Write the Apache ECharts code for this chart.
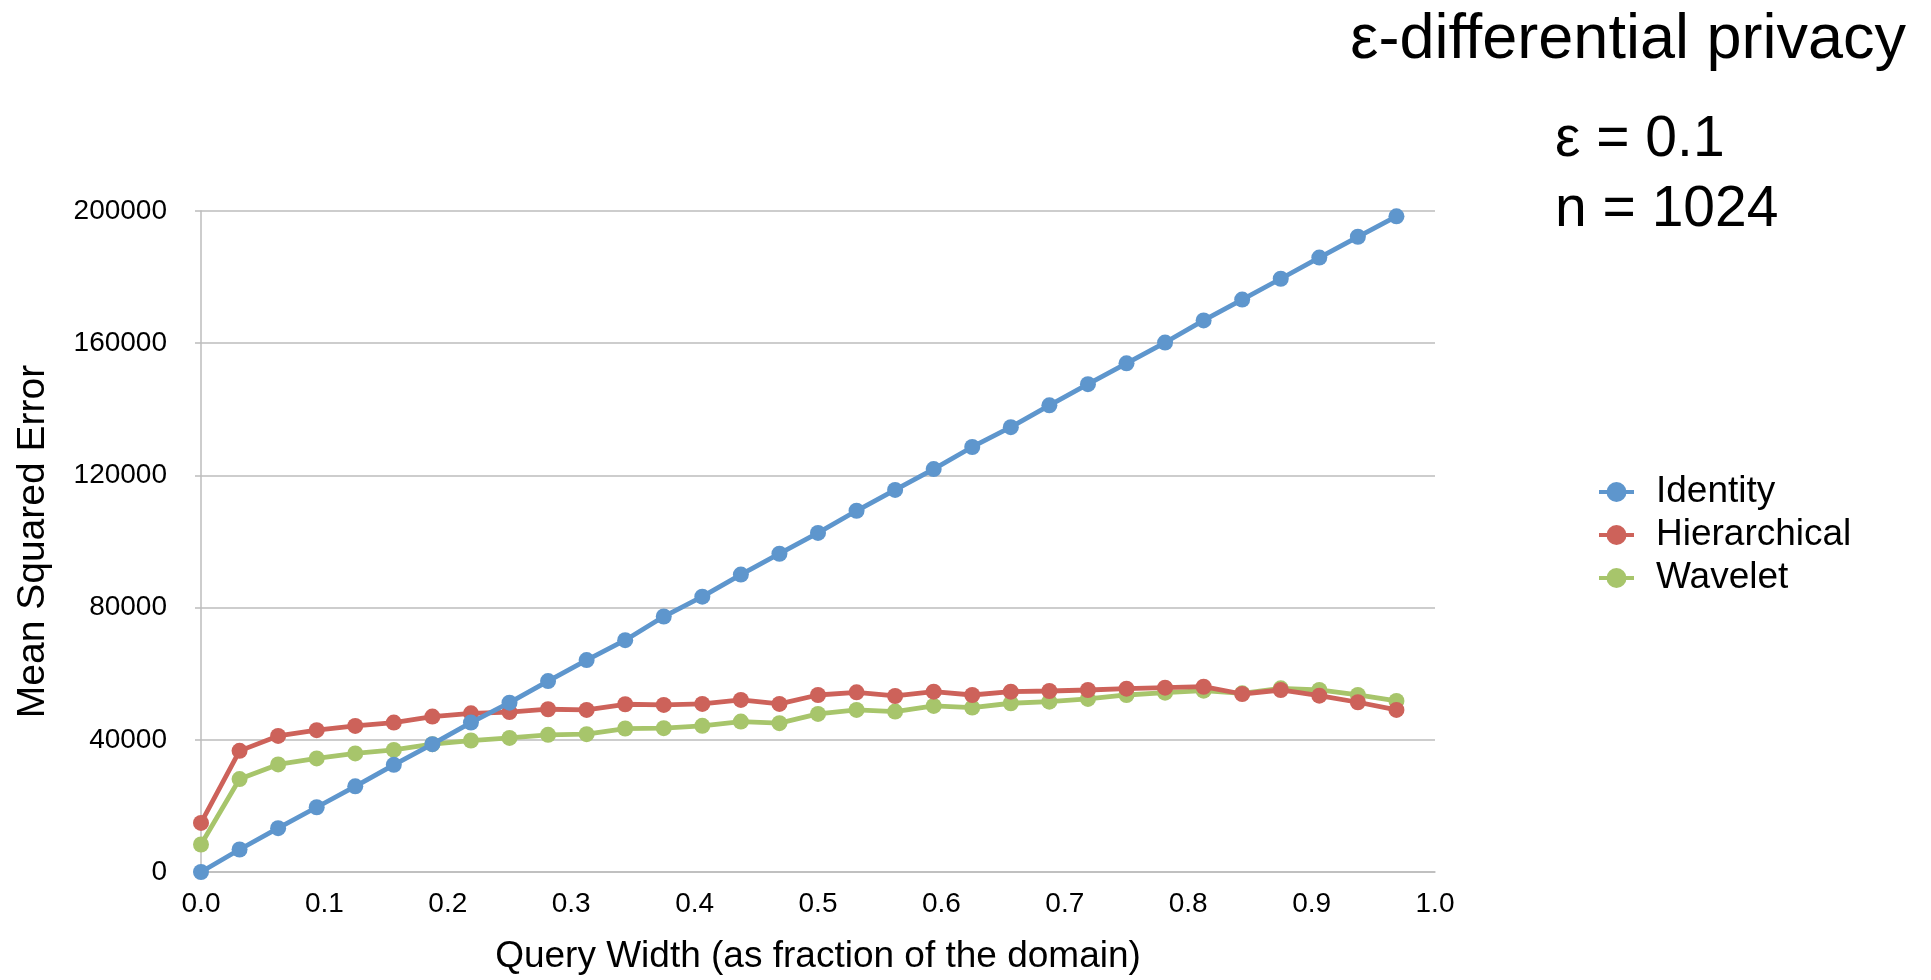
<!DOCTYPE html>
<html>
<head>
<meta charset="utf-8">
<title>ε-differential privacy</title>
<script src="https://cdn.jsdelivr.net/npm/echarts@6/dist/echarts.min.js"></script>
<style>
  html, body { margin: 0; padding: 0; background: #fff; }
  #chart { width: 1931px; height: 980px; }
</style>
</head>
<body>
<div id="chart"></div>
<script>
// Query widths as a fraction of the domain (n = 1024)
const queryWidths = [0, 0.03125, 0.0625, 0.09375, 0.125, 0.15625, 0.1875, 0.21875,
  0.25, 0.28125, 0.3125, 0.34375, 0.375, 0.40625, 0.4375, 0.46875,
  0.5, 0.53125, 0.5625, 0.59375, 0.625, 0.65625, 0.6875, 0.71875,
  0.75, 0.78125, 0.8125, 0.84375, 0.875, 0.90625, 0.9375, 0.96875];

// Mean squared error per strategy
const identityMSE = [0, 6810, 13260, 19590, 25920, 32430, 38670, 45210,
  51240, 57780, 64110, 70140, 77300, 83300, 90000, 96300,
  102600, 109300, 115600, 121900, 128600, 134600, 141200, 147600,
  153900, 160200, 166900, 173200, 179500, 185900, 192200, 198400];
const hierarchicalMSE = [14860, 36650, 41170, 42900, 44190, 45210, 47020, 48010,
  48400, 49250, 49040, 50750, 50550, 50850, 52060, 50850,
  53560, 54370, 53260, 54560, 53560, 54560, 54770, 55070,
  55460, 55760, 56060, 53860, 55070, 53350, 51360, 49040];
const waveletMSE = [8320, 28120, 32550, 34360, 35870, 36950, 38670, 39780,
  40570, 41510, 41710, 43410, 43510, 44220, 45520, 45030,
  47840, 49040, 48530, 50250, 49740, 51060, 51550, 52360,
  53560, 54260, 54860, 54070, 55580, 55070, 53560, 51760];

const seriesNames = ['Identity', 'Hierarchical', 'Wavelet'];
const seriesColors = ['#5E96CD', '#CD625A', '#A7C56B'];
const seriesValues = [identityMSE, hierarchicalMSE, waveletMSE];
const seriesZ = [4, 3, 2];

const FONT = '"Liberation Sans", Arial, Helvetica, sans-serif';

const chart = echarts.init(document.getElementById('chart'), null, { renderer: 'canvas' });

const series = seriesNames.map((name, k) => ({
  name: name,
  type: 'line',
  data: queryWidths.map((w, i) => [w, seriesValues[k][i]]),
  symbol: 'circle',
  symbolSize: 16,
  showSymbol: true,
  z: seriesZ[k],
  color: seriesColors[k],
  itemStyle: { color: seriesColors[k] },
  lineStyle: { color: seriesColors[k], width: 4.8 },
  emphasis: { disabled: true },
  animation: false
}));

chart.setOption({
  backgroundColor: '#ffffff',
  animation: false,
  textStyle: { fontFamily: FONT, color: '#000' },
  title: [
    {
      text: 'ε-differential privacy',
      right: 25,
      top: 9,
      padding: 0,
      textStyle: { fontFamily: FONT, fontSize: 63, fontWeight: 'normal', color: '#000' }
    },
    {
      text: 'ε = 0.1\nn = 1024',
      left: 1555,
      top: 105,
      padding: 0,
      textStyle: { fontFamily: FONT, fontSize: 57, fontWeight: 'normal', color: '#000', lineHeight: 70 }
    }
  ],
  legend: {
    data: seriesNames,
    orient: 'vertical',
    left: 1597,
    top: 472,
    padding: 0,
    itemWidth: 35,
    itemHeight: 25,
    itemGap: 3,
    lineStyle: { width: 4 },
    textStyle: { fontFamily: FONT, fontSize: 37, color: '#000', lineHeight: 40, padding: [0, 0, 0, 17] }
  },
  grid: {
    left: 201,
    right: 496,
    top: 211,
    bottom: 105,
    containLabel: false
  },
  xAxis: {
    type: 'value',
    min: 0,
    max: 1,
    interval: 0.1,
    name: 'Query Width (as fraction of the domain)',
    nameLocation: 'middle',
    nameGap: 66,
    nameTextStyle: { fontFamily: FONT, fontSize: 37, color: '#000' },
    axisLine: { show: true, lineStyle: { color: '#bcbcbc', width: 1.5 } },
    axisTick: { show: false },
    splitLine: { show: false },
    axisLabel: {
      margin: 18,
      fontFamily: FONT,
      fontSize: 28,
      color: '#000',
      formatter: v => v.toFixed(1)
    }
  },
  yAxis: {
    type: 'value',
    min: 0,
    max: 200000,
    interval: 40000,
    name: 'Mean Squared Error',
    nameLocation: 'middle',
    nameGap: 148,
    nameTextStyle: { fontFamily: FONT, fontSize: 39, color: '#000' },
    axisLine: { show: true, lineStyle: { color: '#bcbcbc', width: 1.5 } },
    axisTick: { show: true, length: 6, lineStyle: { color: '#bcbcbc', width: 1.5 } },
    splitLine: { show: true, lineStyle: { color: '#bcbcbc', width: 1.5 } },
    axisLabel: {
      margin: 34,
      fontFamily: FONT,
      fontSize: 28,
      color: '#000',
      formatter: v => String(v)
    }
  },
  series: series
});
</script>
</body>
</html>
